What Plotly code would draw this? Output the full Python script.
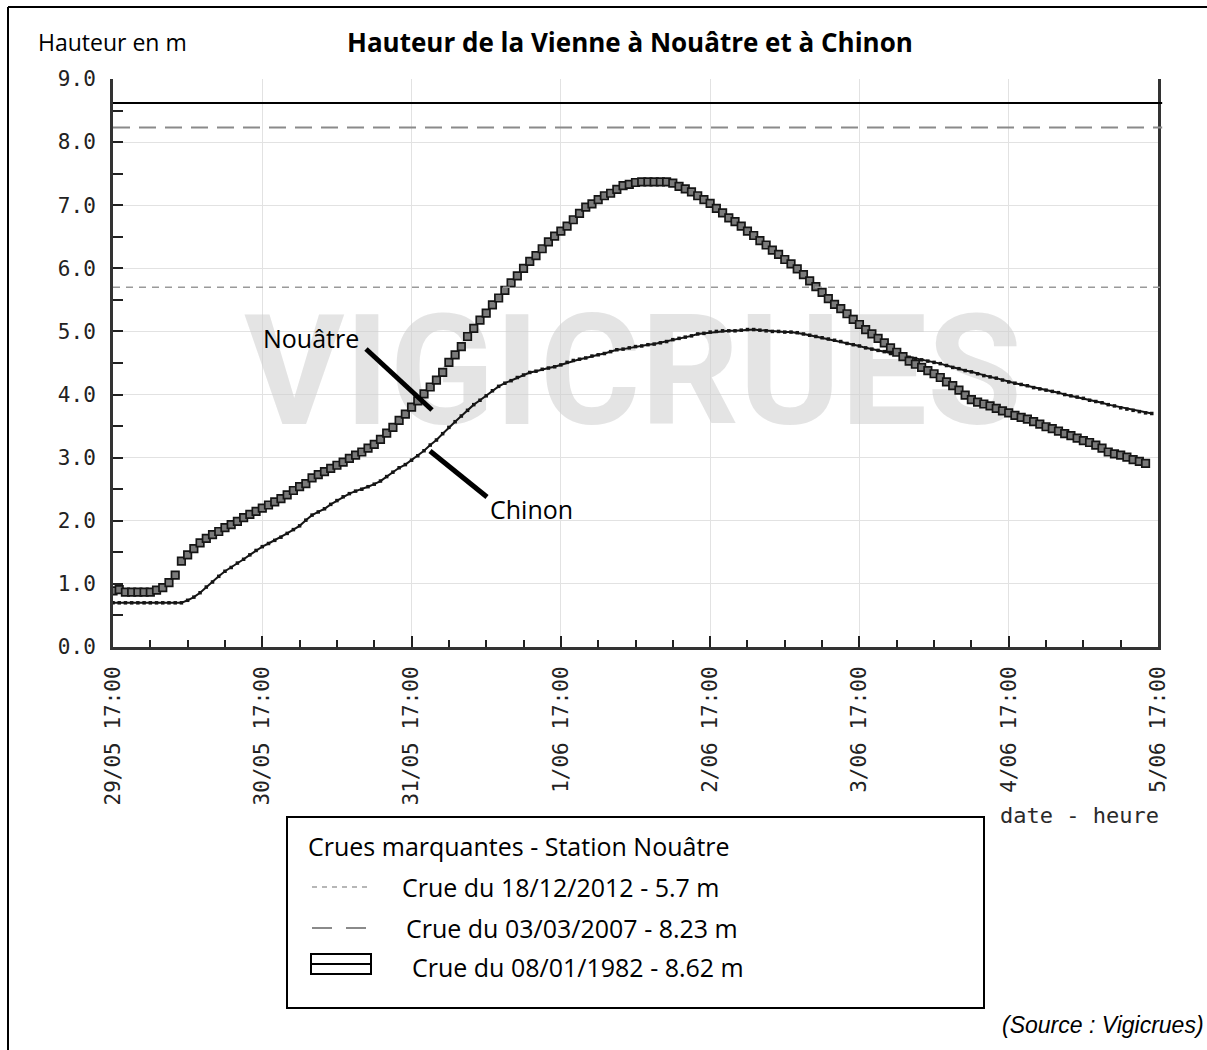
import pandas as pd
import plotly.graph_objects as go

# ---------------- data ----------------
START = "2016-05-29 17:00"
END = "2016-06-05 17:00"

nouatre = [
    0.89, 0.91, 0.87, 0.87, 0.87, 0.87, 0.87, 0.90, 0.94, 1.02,
    1.14, 1.36, 1.46, 1.56, 1.65, 1.72, 1.78, 1.83, 1.89, 1.94,
    1.99, 2.05, 2.10, 2.15, 2.20, 2.25, 2.30, 2.35, 2.41, 2.48,
    2.54, 2.59, 2.68, 2.73, 2.78, 2.83, 2.88, 2.93, 2.99, 3.04,
    3.09, 3.15, 3.21, 3.29, 3.39, 3.48, 3.59, 3.69, 3.80, 3.90,
    4.01, 4.12, 4.23, 4.35, 4.51, 4.63, 4.76, 4.92, 5.05, 5.18,
    5.29, 5.42, 5.53, 5.65, 5.77, 5.88, 6.00, 6.11, 6.20, 6.31,
    6.42, 6.51, 6.59, 6.67, 6.77, 6.87, 6.97, 7.02, 7.09, 7.15,
    7.19, 7.25, 7.31, 7.33, 7.36, 7.37, 7.37, 7.37, 7.37, 7.37,
    7.35, 7.30, 7.26, 7.21, 7.15, 7.09, 7.03, 6.95, 6.88, 6.80,
    6.74, 6.67, 6.59, 6.52, 6.44, 6.37, 6.29, 6.22, 6.14, 6.07,
    5.99, 5.90, 5.80, 5.71, 5.62, 5.52, 5.43, 5.36, 5.28, 5.19,
    5.11, 5.03, 4.96, 4.89, 4.82, 4.74, 4.67, 4.60, 4.53, 4.48,
    4.43, 4.38, 4.33, 4.27, 4.20, 4.14, 4.07, 3.99, 3.92, 3.88,
    3.85, 3.82, 3.78, 3.74, 3.71, 3.67, 3.64, 3.61, 3.57, 3.53,
    3.49, 3.46, 3.42, 3.38, 3.35, 3.31, 3.27, 3.24, 3.20, 3.15,
    3.09, 3.06, 3.04, 3.01, 2.97, 2.94, 2.91,
]

chinon = [
    0.70, 0.70, 0.70, 0.70, 0.70, 0.70, 0.70, 0.70, 0.70, 0.70,
    0.70, 0.70, 0.74, 0.79, 0.86, 0.95, 1.03, 1.12, 1.20, 1.26,
    1.33, 1.39, 1.46, 1.53, 1.59, 1.64, 1.69, 1.74, 1.80, 1.86,
    1.92, 2.01, 2.09, 2.14, 2.19, 2.26, 2.32, 2.38, 2.43, 2.47,
    2.50, 2.54, 2.58, 2.63, 2.70, 2.77, 2.84, 2.89, 2.96, 3.03,
    3.11, 3.20, 3.28, 3.38, 3.48, 3.57, 3.66, 3.75, 3.84, 3.91,
    3.98, 4.06, 4.13, 4.18, 4.22, 4.27, 4.31, 4.35, 4.37, 4.40,
    4.42, 4.44, 4.47, 4.51, 4.54, 4.56, 4.58, 4.61, 4.63, 4.65,
    4.68, 4.71, 4.72, 4.74, 4.76, 4.77, 4.79, 4.80, 4.82, 4.84,
    4.87, 4.89, 4.91, 4.93, 4.96, 4.97, 4.99, 5.00, 5.01, 5.01,
    5.01, 5.02, 5.03, 5.03, 5.02, 5.01, 5.00, 5.00, 4.99, 4.99,
    4.98, 4.96, 4.94, 4.92, 4.90, 4.88, 4.86, 4.84, 4.81, 4.79,
    4.77, 4.74, 4.72, 4.70, 4.68, 4.65, 4.64, 4.61, 4.59, 4.57,
    4.55, 4.53, 4.51, 4.49, 4.46, 4.43, 4.41, 4.38, 4.36, 4.33,
    4.30, 4.28, 4.26, 4.23, 4.20, 4.18, 4.16, 4.14, 4.11, 4.09,
    4.07, 4.05, 4.03, 4.00, 3.98, 3.96, 3.94, 3.91, 3.89, 3.87,
    3.84, 3.82, 3.79, 3.77, 3.75, 3.73, 3.71, 3.70,
]

crue_levels = [5.7, 8.23, 8.62]
crue_labels = [
    "Crue du 18/12/2012 - 5.7 m",
    "Crue du 03/03/2007 - 8.23 m",
    "Crue du 08/01/1982 - 8.62 m",
]

tick_labels = ["29/05 17:00", "30/05 17:00", "31/05 17:00", "1/06 17:00",
               "2/06 17:00", "3/06 17:00", "4/06 17:00", "5/06 17:00"]
y_tick_labels = ["0.0", "1.0", "2.0", "3.0", "4.0", "5.0", "6.0", "7.0", "8.0", "9.0"]

# ---------------- build ----------------
t_n = pd.date_range(START, periods=len(nouatre), freq="h")
t_c = pd.date_range(START, periods=len(chinon), freq="h")
major_ticks = pd.date_range(START, END, freq="D")
minor_ticks = pd.date_range(START, END, freq="6h")

W, H = 1207, 1050
PX0, PX1, PY0, PY1 = 113, 1158, 647, 79


def fx(px):
    return (px - PX0) / (PX1 - PX0)


def fy(py):
    return (PY0 - py) / (PY0 - PY1)


MONO = "DejaVu Sans Mono"
TXT = "Open Sans"

fig = go.Figure()

# watermark (under curves)
t0, t1 = pd.Timestamp(START), pd.Timestamp(END)
fig.add_trace(go.Scatter(
    x=[t0 + (t1 - t0) * fx(633)], y=[9 * fy(385)], mode="text",
    text=["VIGICRUES"], hoverinfo="skip", showlegend=False,
    textfont=dict(family="Roboto", size=154, color="rgba(205,205,205,0.55)", weight="bold"),
))

fig.add_trace(go.Scatter(
    x=t_c, y=chinon, mode="lines+markers", name="Chinon", showlegend=False,
    line=dict(color="#151515", width=2),
    marker=dict(symbol="square", size=3.5, color="#151515"),
))
fig.add_trace(go.Scatter(
    x=t_n, y=nouatre, mode="markers", name="Nouâtre", showlegend=False,
    marker=dict(symbol="square", size=7.5, color="#7a7a7a",
                line=dict(color="#151515", width=1.7)),
))

shapes = []
# reference flood lines
styles = [dict(color="#9a9a9a", width=1.5, dash="7px,6px"),
          dict(color="#8a8a8a", width=2, dash="17px,9px"),
          dict(color="#000000", width=2)]
for lvl, st in zip(crue_levels, styles):
    shapes.append(dict(type="line", xref="paper", yref="y", x0=0, x1=1.004,
                       y0=lvl, y1=lvl, line=st, layer="above"))

# pointer lines
shapes.append(dict(type="line", xref="paper", yref="paper",
                   x0=fx(366), y0=fy(349), x1=fx(432), y1=fy(410),
                   line=dict(color="black", width=5)))
shapes.append(dict(type="line", xref="paper", yref="paper",
                   x0=fx(430), y0=fy(451), x1=fx(487), y1=fy(497),
                   line=dict(color="black", width=5)))

# outer frame (left + top visible)
shapes.append(dict(type="line", xref="paper", yref="paper",
                   x0=fx(8), y0=fy(7), x1=fx(8), y1=fy(1060),
                   line=dict(color="black", width=2)))
shapes.append(dict(type="line", xref="paper", yref="paper",
                   x0=fx(8), y0=fy(7), x1=fx(1215), y1=fy(7),
                   line=dict(color="black", width=2)))

# legend box
shapes.append(dict(type="rect", xref="paper", yref="paper",
                   x0=fx(287), y0=fy(817), x1=fx(984), y1=fy(1008),
                   line=dict(color="black", width=2)))
shapes.append(dict(type="line", xref="paper", yref="paper",
                   x0=fx(312), y0=fy(887), x1=fx(368), y1=fy(887),
                   line=dict(color="#a0a0a0", width=1.5, dash="5px,5px")))
shapes.append(dict(type="line", xref="paper", yref="paper",
                   x0=fx(312), y0=fy(928), x1=fx(370), y1=fy(928),
                   line=dict(color="#8a8a8a", width=2, dash="20px,14px")))
shapes.append(dict(type="rect", xref="paper", yref="paper",
                   x0=fx(311), y0=fy(954), x1=fx(371), y1=fy(974),
                   line=dict(color="black", width=2)))
shapes.append(dict(type="line", xref="paper", yref="paper",
                   x0=fx(311), y0=fy(964), x1=fx(371), y1=fy(964),
                   line=dict(color="black", width=2)))

ann = []


def add_text(text, px, py, size=22, anchor="left", family=TXT, color="black", **kw):
    ann.append(dict(text=text, xref="paper", yref="paper", x=fx(px), y=fy(py),
                    xanchor=anchor, yanchor="middle", showarrow=False,
                    font=dict(family=family, size=size, color=color, **kw)))


add_text("Hauteur en m", 36, 42, size=23)
add_text("<b>Hauteur de la Vienne à Nouâtre et à Chinon</b>", 630, 42, size=26, anchor="center")
add_text("Nouâtre", 261, 338, size=25)
add_text("Chinon", 488, 509, size=25)
add_text("date - heure", 1161, 816, size=22, anchor="right", family=MONO, color="#2a2a2a")
add_text("<i>(Source : Vigicrues)</i>", 1000, 1025, size=23, family="Liberation Sans")
add_text("Crues marquantes - Station Nouâtre", 306, 846, size=25)
add_text(crue_labels[0], 400, 887, size=25)
add_text(crue_labels[1], 404, 928, size=25)
add_text(crue_labels[2], 410, 967, size=25)

fig.update_layout(
    width=W, height=H,
    margin=dict(l=PX0, r=W - PX1, t=PY1, b=H - PY0, pad=0),
    paper_bgcolor="white", plot_bgcolor="white",
    showlegend=False,
    shapes=shapes, annotations=ann,
    xaxis=dict(
        type="date", range=[START, END], automargin=False,
        tickmode="array", tickvals=major_ticks, ticktext=tick_labels,
        tickangle=-90, ticks="inside", ticklen=11, tickwidth=2, tickcolor="#222",
        ticklabelstandoff=8,
        tickfont=dict(family=MONO, size=21, color="#222222"),
        showgrid=True, gridcolor="#e2e2e2", gridwidth=1,
        showline=True, linecolor="#333333", linewidth=3,
        minor=dict(tickmode="array", tickvals=minor_ticks, ticks="inside",
                   ticklen=7, tickwidth=2, tickcolor="#222", showgrid=False),
        zeroline=False,
    ),
    yaxis=dict(
        range=[0, 9], automargin=False,
        tickmode="array", tickvals=list(range(10)), ticktext=y_tick_labels,
        ticks="inside", ticklen=10, tickwidth=2, tickcolor="#222",
        ticklabelstandoff=10,
        tickfont=dict(family=MONO, size=21, color="#222222"),
        showgrid=True, gridcolor="#e2e2e2", gridwidth=1,
        showline=True, linecolor="#333333", linewidth=3, mirror=True,
        minor=dict(dtick=0.5, tick0=0, ticks="inside", ticklen=10,
                   tickwidth=2, tickcolor="#222", showgrid=False),
        zeroline=False,
    ),
)

fig.write_html("out.html", config={"displayModeBar": False},
               post_script="document.body.style.margin='0px';")
